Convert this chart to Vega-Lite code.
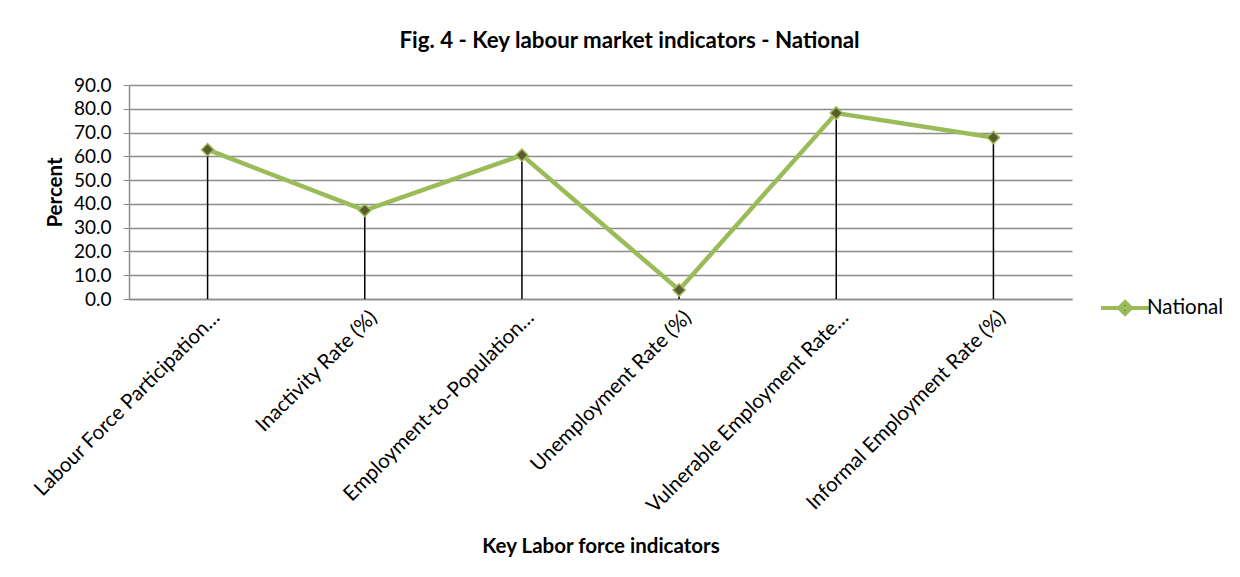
{
  "$schema": "https://vega.github.io/schema/vega-lite/v6.json",
  "autosize": {"type": "none"},
  "padding": {"left": 129, "top": 85, "right": 168, "bottom": 278},
  "width": 943,
  "height": 214,
  "background": "white",
  "title": {
    "text": "Fig. 4 - Key labour market indicators - National",
    "font": "Lato",
    "fontSize": 22.3,
    "fontWeight": "bold",
    "color": "black",
    "anchor": "middle",
    "dx": 29,
    "offset": 24
  },
  "config": {
    "view": {"stroke": null},
    "font": "Lato",
    "axis": {"labelFont": "Lato", "titleFont": "Lato", "labelColor": "black", "titleColor": "black"}
  },
  "data": {
    "values": [
      {"indicator": "Labour Force Participation…", "value": 62.8, "series": "National"},
      {"indicator": "Inactivity Rate (%)", "value": 37.3, "series": "National"},
      {"indicator": "Employment-to-Population…", "value": 60.5, "series": "National"},
      {"indicator": "Unemployment Rate (%)", "value": 3.8, "series": "National"},
      {"indicator": "Vulnerable Employment Rate…", "value": 78.2, "series": "National"},
      {"indicator": "Informal Employment Rate (%)", "value": 67.9, "series": "National"}
    ]
  },
  "encoding": {
    "x": {
      "field": "indicator",
      "type": "nominal",
      "sort": null,
      "scale": {"paddingInner": 0, "paddingOuter": 0},
      "axis": {
        "title": "Key Labor force indicators",
        "titleFontSize": 20.5,
        "titleFontWeight": "bold",
        "titlePadding": 37,
        "labelAngle": -45,
        "labelFontSize": 20.5,
        "labelPadding": 8,
        "labelOffset": 2,
        "labelLimit": 500,
        "ticks": false,
        "domainColor": "#8c8c8c",
        "domainWidth": 1.5,
        "grid": false
      }
    },
    "y": {
      "field": "value",
      "type": "quantitative",
      "scale": {"domain": [0, 90], "nice": false},
      "axis": {
        "title": "Percent",
        "titleFontSize": 20.5,
        "titleFontWeight": "bold",
        "titlePadding": 8,
        "format": ".1f",
        "values": [0, 10, 20, 30, 40, 50, 60, 70, 80, 90],
        "labelFontSize": 19,
        "labelPadding": 12,
        "tickSize": 6,
        "tickColor": "#8c8c8c",
        "domainColor": "#8c8c8c",
        "domainWidth": 1.5,
        "gridColor": "#8c8c8c",
        "gridWidth": 1.5,
        "gridOpacity": 1
      }
    }
  },
  "layer": [
    {
      "mark": {"type": "line", "strokeWidth": 4.5, "color": "#9bbb59"},
      "encoding": {
        "color": {
          "field": "series",
          "type": "nominal",
          "scale": {"range": ["#9bbb59"]},
          "legend": {
            "title": null,
            "orient": "none",
            "legendX": 979,
            "legendY": 206,
            "labelFont": "Lato",
            "labelFontSize": 20.5,
            "labelColor": "black",
            "symbolType": "M-1.6,0L1.6,0M0,-0.4L0.4,0L0,0.4L-0.4,0Z",
            "symbolSize": 900,
            "symbolStrokeWidth": 4,
            "symbolFillColor": "#5b5b2e",
            "symbolStrokeColor": "#9bbb59",
            "labelOffset": 5
          }
        }
      }
    },
    {
      "mark": {"type": "rule", "color": "black", "strokeWidth": 1.5},
      "encoding": {"y2": {"datum": 0}}
    },
    {
      "mark": {"type": "point", "shape": "diamond", "filled": true, "fill": "#5b5b2e", "stroke": "#9bbb59", "strokeWidth": 1.5, "size": 150, "opacity": 1}
    }
  ]
}
